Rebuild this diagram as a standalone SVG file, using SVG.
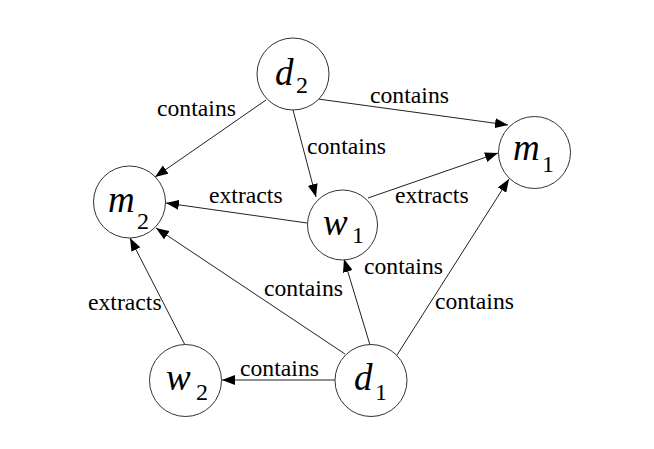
<svg xmlns="http://www.w3.org/2000/svg" width="654" height="449" viewBox="0 0 654 449">
<style>
.node{fill:#fff;stroke:#333;stroke-width:1}
.lbl{font-style:italic;font-size:37px;fill:#000}
.sub{font-style:normal;font-size:24px;fill:#000}
.el{font-size:23.7px;fill:#000}
.edge{stroke:#222;stroke-width:1;fill:none;marker-end:url(#arr)}
</style>
<defs>
<marker id="arr" markerUnits="userSpaceOnUse" markerWidth="14" markerHeight="10" refX="13" refY="5" orient="auto">
<path d="M0,0 L13,5 L0,10 z" fill="#000"/>
</marker>
</defs>
<rect width="654" height="449" fill="#fff"/>
<g id="connectors" font-family="'Liberation Serif', 'Times New Roman', Times, serif">
<line class="edge" x1="266" y1="100" x2="155" y2="177"/>
<line class="edge" x1="293" y1="110" x2="316" y2="197"/>
<line class="edge" x1="318" y1="99" x2="508" y2="125"/>
<line class="edge" x1="368" y1="198" x2="498" y2="153"/>
<line class="edge" x1="307" y1="223" x2="166" y2="203"/>
<line class="edge" x1="345" y1="354" x2="156" y2="228"/>
<line class="edge" x1="185" y1="345" x2="130" y2="238"/>
<line class="edge" x1="370" y1="345" x2="344" y2="259"/>
<line class="edge" x1="397" y1="355" x2="509" y2="179"/>
<line class="edge" x1="335" y1="380" x2="222" y2="380"/>
<text class="el" x="157" y="116">contains</text>
<text class="el" x="307" y="154">contains</text>
<text class="el" x="370" y="103">contains</text>
<text class="el" x="209" y="203">extracts</text>
<text class="el" x="395" y="203">extracts</text>
<text class="el" x="364" y="274">contains</text>
<text class="el" x="264" y="296">contains</text>
<text class="el" x="88" y="310">extracts</text>
<text class="el" x="435" y="309">contains</text>
<text class="el" x="240" y="376">contains</text>
</g>
<g font-family="'Liberation Serif', 'Times New Roman', Times, serif">
<g id="d2"><circle class="node" cx="293" cy="74" r="36"/><text class="lbl" x="275" y="85">d</text><text class="sub" x="296" y="93">2</text></g>
<g id="m1"><circle class="node" cx="534.5" cy="152.5" r="36"/><text class="lbl" x="513" y="160">m</text><text class="sub" x="542" y="172">1</text></g>
<g id="m2"><circle class="node" cx="129.5" cy="202" r="36"/><text class="lbl" x="108" y="212">m</text><text class="sub" x="137" y="229">2</text></g>
<g id="w1"><circle class="node" cx="342.5" cy="225" r="35"/><text class="lbl" x="323" y="235">w</text><text class="sub" x="352" y="243">1</text></g>
<g id="w2"><circle class="node" cx="185.5" cy="380.5" r="36"/><text class="lbl" x="166" y="390">w</text><text class="sub" x="196" y="400">2</text></g>
<g id="d1"><circle class="node" cx="371" cy="380.5" r="36"/><text class="lbl" x="354" y="390">d</text><text class="sub" x="375" y="400">1</text></g>
</g>
</svg>
